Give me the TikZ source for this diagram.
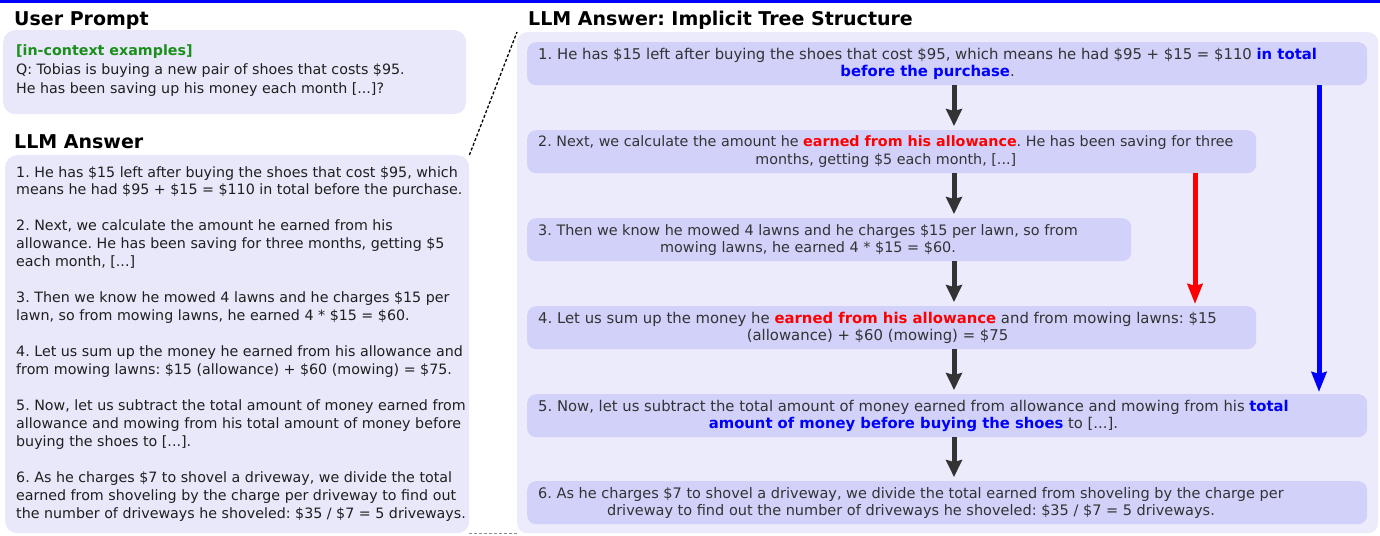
\documentclass[tikz,border=0pt]{standalone}
\usepackage{fontspec}
\setmainfont{DejaVu Sans}
\usetikzlibrary{arrows.meta}
\definecolor{lavbox}{HTML}{E8E8FA}
\definecolor{lavpanel}{HTML}{EBEBFC}
\definecolor{stepfill}{HTML}{D1D1FA}
\definecolor{ictgreen}{HTML}{1A8F1A}
\definecolor{flowgray}{HTML}{333333}
\newcommand{\redbf}[1]{\textcolor{red}{\textbf{#1}}}
\newcommand{\bluebf}[1]{\textcolor{blue}{\textbf{#1}}}
\frenchspacing
\begin{document}
\begin{tikzpicture}[x=1pt, y=-1pt,
    title/.style={font=\fontsize{19}{22}\selectfont\bfseries, anchor=west, inner sep=0pt},
    card/.style={fill=lavbox, rounded corners=12pt, inner sep=0pt, anchor=north west},
    stepbox/.style={fill=stepfill, rounded corners=9pt, inner sep=0pt, anchor=north west, minimum height=43pt},
    steptext/.style={font=\fontsize{#1}{17.3}\selectfont, text=black!80, align=center, anchor=west, inner sep=0pt},
    steptext/.default=14.4,
    bodytext/.style={font=\fontsize{14.25}{17.95}\selectfont, text=black!88, align=left, anchor=north west, inner sep=0pt},
    flow/.style={draw=flowgray, line width=5pt, -{Stealth[length=17pt,width=16pt,inset=2pt]}, shorten >=4pt},
    link/.style={line width=5pt, -{Stealth[length=20pt,width=15pt,inset=2pt]}, shorten >=2pt}]
    \useasboundingbox (0,0) rectangle (1380,535);
    \draw[blue, line width=3pt] (0,1.5) -- (1380,1.5);

    \node[title] (t1) at (14,20.5) {User Prompt};
    \node[card, minimum width=463pt, minimum height=84pt] (prompt) at (3,30) {};
    \node[bodytext, font=\fontsize{14.25}{19}\selectfont] (q) at (16,44) {\textcolor{ictgreen}{\textbf{[in-context examples]}}\\
        Q: Tobias is buying a new pair of shoes that costs \$95.\\
        He has been saving up his money each month [...]?};

    \node[title] (t2) at (14,142) {LLM Answer};
    \node[card, minimum width=464pt, minimum height=378pt] (ans) at (5,155) {};
    \node[bodytext] (a) at (16,166) {1. He has \$15 left after buying the shoes that cost \$95, which\\
        means he had \$95 + \$15 = \$110 in total before the purchase.\\[17.95pt]
        2. Next, we calculate the amount he earned from his\\
        allowance. He has been saving for three months, getting \$5\\
        each month, [...]\\[17.95pt]
        3. Then we know he mowed 4 lawns and he charges \$15 per\\
        lawn, so from mowing lawns, he earned 4 * \$15 = \$60.\\[17.95pt]
        4. Let us sum up the money he earned from his allowance and\\
        from mowing lawns: \$15 (allowance) + \$60 (mowing) = \$75.\\[17.95pt]
        5. Now, let us subtract the total amount of money earned from\\
        allowance and mowing from his total amount of money before\\
        buying the shoes to [...].\\[17.95pt]
        6. As he charges \$7 to shovel a driveway, we divide the total\\
        earned from shoveling by the charge per driveway to find out\\
        the number of driveways he shoveled: \$35 / \$7 = 5 driveways.};

    \node[title] (t3) at (528,20.5) {LLM Answer: Implicit Tree Structure};
    \node[card, fill=lavpanel, rounded corners=10pt, minimum width=861pt, minimum height=501pt] (panel) at (517,32) {};

    \draw[densely dashed, line width=1.3pt] (ans.north east) -- (panel.north west);
    \draw[densely dashed, black!45, line width=0.8pt] (ans.south east) -- (panel.south west);

    \node[stepbox, minimum width=840pt] (s1) at (527,42) {};
    \node[stepbox, minimum width=729pt] (s2) at (527,130) {};
    \node[stepbox, minimum width=604pt] (s3) at (527,218) {};
    \node[stepbox, minimum width=729pt] (s4) at (527,306) {};
    \node[stepbox, minimum width=840pt] (s5) at (527,394) {};
    \node[stepbox, minimum width=840pt] (s6) at (527,481) {};

    \node[steptext=14.85] (l1) at ([xshift=11pt]s1.west) {1. He has \$15 left after buying the shoes that cost \$95, which means he had \$95 + \$15 = \$110 \bluebf{in total}\\
        \bluebf{before the purchase}.};
    \node[steptext=14.3] (l2) at ([xshift=11pt]s2.west) {2. Next, we calculate the amount he \redbf{earned from his allowance}. He has been saving for three\\
        months, getting \$5 each month, [...]};
    \node[steptext] (l3) at ([xshift=11pt]s3.west) {3. Then we know he mowed 4 lawns and he charges \$15 per lawn, so from\\
        mowing lawns, he earned 4 * \$15 = \$60.};
    \node[steptext=14.85] (l4) at ([xshift=11pt]s4.west) {4. Let us sum up the money he \redbf{earned from his allowance} and from mowing lawns: \$15\\
        (allowance) + \$60 (mowing) = \$75};
    \node[steptext=14.8] (l5) at ([xshift=11pt]s5.west) {5. Now, let us subtract the total amount of money earned from allowance and mowing from his \bluebf{total}\\
        \bluebf{amount of money before buying the shoes} to [...].};
    \node[steptext=14.5] (l6) at ([xshift=11pt]s6.west) {6. As he charges \$7 to shovel a driveway, we divide the total earned from shoveling by the charge per\\
        driveway to find out the number of driveways he shoveled: \$35 / \$7 = 5 driveways.};

    \coordinate (ax) at (954,0);
    \coordinate (rx) at (1195,0);
    \coordinate (bx) at (1319,0);
    \draw[flow] (s1.south -| ax) -- (s2.north -| ax);
    \draw[flow] (s2.south -| ax) -- (s3.north -| ax);
    \draw[flow] (s3.south -| ax) -- (s4.north -| ax);
    \draw[flow] (s4.south -| ax) -- (s5.north -| ax);
    \draw[flow] (s5.south -| ax) -- (s6.north -| ax);
    \draw[link, red] (s2.south -| rx) -- (s4.north -| rx);
    \draw[link, blue] (s1.south -| bx) -- (s5.north -| bx);
\end{tikzpicture}
\end{document}
